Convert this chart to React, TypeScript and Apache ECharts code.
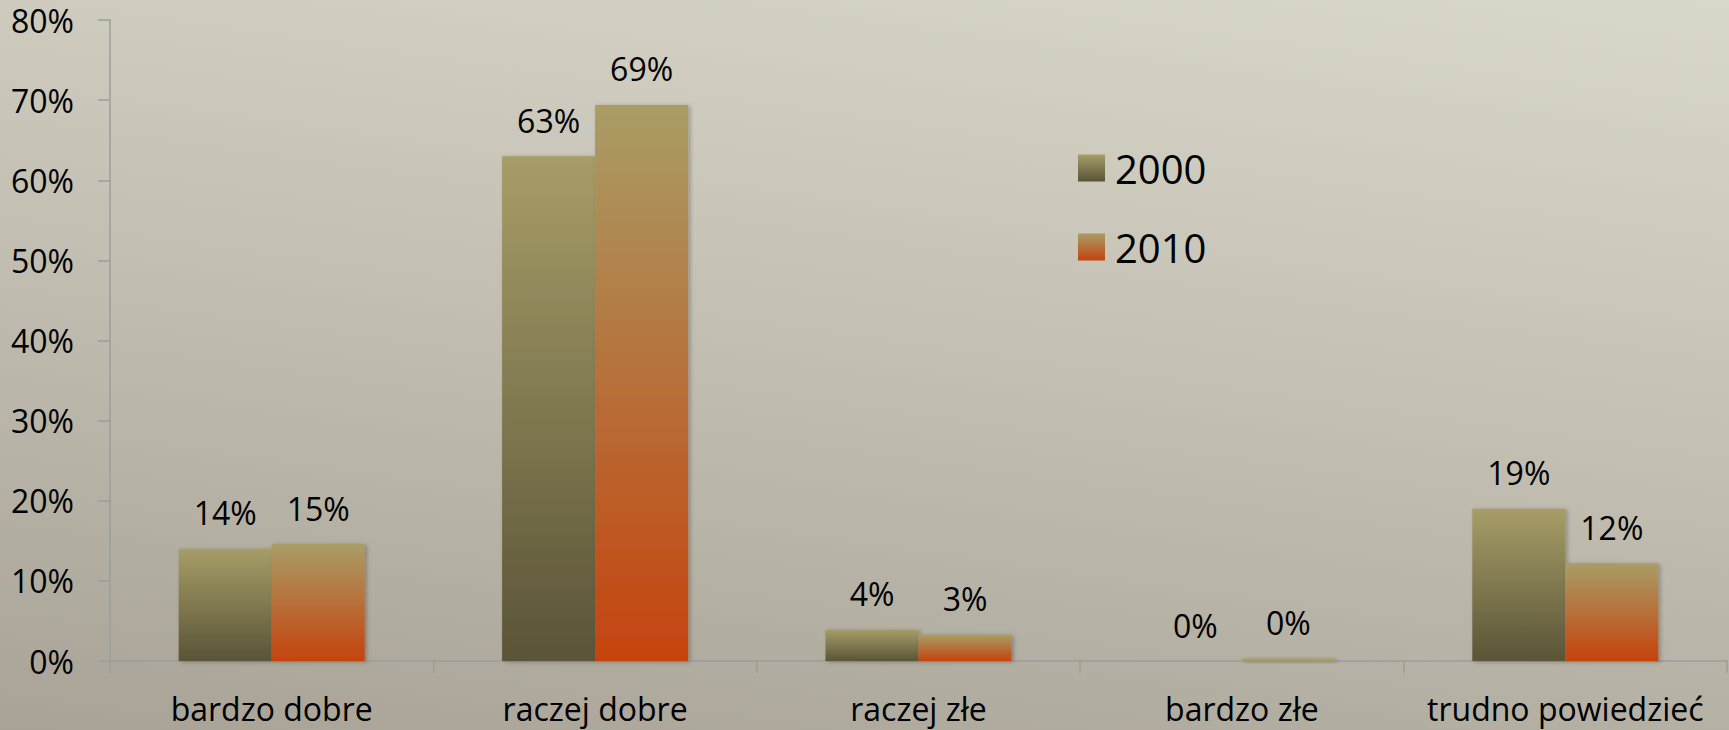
import React, { useEffect, useRef } from "react";
import * as echarts from "echarts";

const categories = ["bardzo dobre", "raczej dobre", "raczej złe", "bardzo złe", "trudno powiedzieć"];
const seriesNames = ["2000", "2010"];
const values2000 = [14, 63, 3.9, 0, 19];
const values2010 = [14.6, 69.4, 3.3, 0.3, 12.2];
const yTicks = { min: 0, max: 80, interval: 10 };

const FONT = "'Open Sans', 'Noto Sans', sans-serif";

export default function App() {
  const ref = useRef<HTMLDivElement>(null);
  useEffect(() => {
    if (!ref.current) return;
    const chart = echarts.init(ref.current, null, { renderer: "svg" });
    const grad2000 = new echarts.graphic.LinearGradient(0, 0, 0, 1, [
      { offset: 0, color: "#A69D67" },
      { offset: 1, color: "#5A5438" },
    ]);
    const grad2010 = new echarts.graphic.LinearGradient(0, 0, 0, 1, [
      { offset: 0, color: "#A99D66" },
      { offset: 1, color: "#C5430E" },
    ]);
    const label = {
      show: true,
      position: "top" as const,
      distance: 20,
      fontFamily: FONT,
      fontSize: 32,
      color: "#000",
      formatter: (p: any) => Math.round(p.value) + "%",
    };
    const shadow = {
      shadowColor: "rgba(0,0,0,0.28)",
      shadowBlur: 4,
      shadowOffsetX: 2,
      shadowOffsetY: 1,
    };
    const data2010 = values2010.map((v) =>
      v < 1 ? { value: v, itemStyle: { color: "#A99D66" } } : v
    );
    chart.setOption({
      animation: false,
      backgroundColor: "transparent",
      grid: { left: 110, right: 2, top: 20, bottom: 69, containLabel: false },
      legend: {
        orient: "vertical",
        left: 1073,
        top: 143,
        itemWidth: 27,
        itemHeight: 27,
        itemGap: 39,
        icon: "rect",
        textStyle: {
          fontFamily: FONT,
          fontSize: 40,
          lineHeight: 40,
          color: "#000",
          padding: [0, 0, 0, 5],
        },
        data: seriesNames,
      },
      xAxis: {
        type: "category",
        data: categories,
        axisLine: { show: true, lineStyle: { color: "#9C9C9C", width: 1.5 } },
        axisTick: { show: true, length: 12, alignWithLabel: false, lineStyle: { color: "#9C9C9C", width: 1.5 } },
        axisLabel: { fontFamily: FONT, fontSize: 32, color: "#000", margin: 31, interval: 0 },
        splitLine: { show: false },
      },
      yAxis: {
        type: "value",
        min: yTicks.min,
        max: yTicks.max,
        interval: yTicks.interval,
        axisLine: { show: true, lineStyle: { color: "#9C9C9C", width: 1.5 } },
        axisTick: { show: true, length: 12, lineStyle: { color: "#9C9C9C", width: 1.5 } },
        axisLabel: {
          fontFamily: FONT,
          fontSize: 32,
          color: "#000",
          margin: 36,
          formatter: "{value}%",
          padding: [8, 0, 0, 0],
        },
        splitLine: { show: false },
      },
      series: [
        {
          name: seriesNames[0],
          type: "bar",
          data: values2000,
          barWidth: 93,
          barGap: "0%",
          itemStyle: { color: grad2000, ...shadow },
          label,
        },
        {
          name: seriesNames[1],
          type: "bar",
          data: data2010,
          barWidth: 93,
          barGap: "0%",
          itemStyle: { color: grad2010, ...shadow },
          label,
        },
      ],
    });
    return () => chart.dispose();
  }, []);
  return (
    <div
      style={{
        position: "fixed",
        left: 0,
        top: 0,
        width: 1729,
        height: 730,
        background: "linear-gradient(188deg, #DAD7CB 0%, #C2BEB2 50%, #A8A396 100%)",
      }}
    >
      <div ref={ref} style={{ width: 1729, height: 730 }} />
    </div>
  );
}
